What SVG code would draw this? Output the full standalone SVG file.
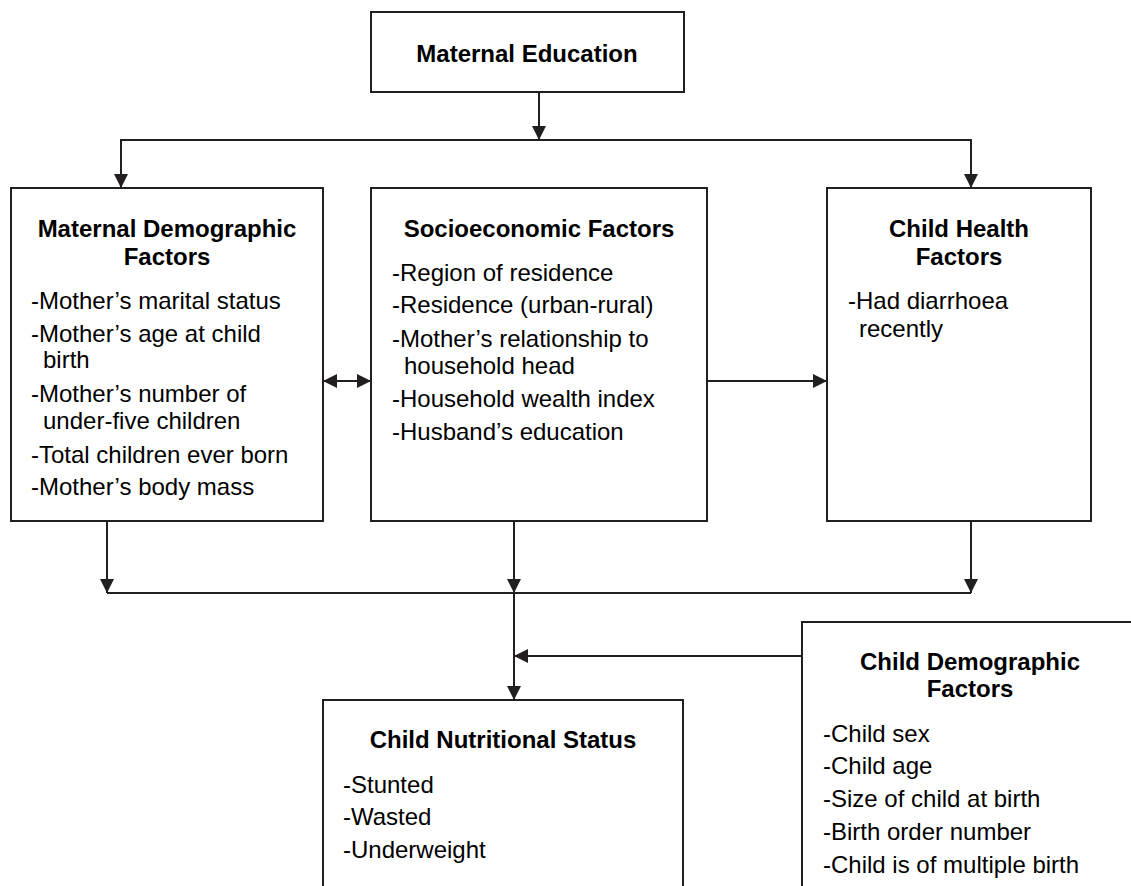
<svg xmlns="http://www.w3.org/2000/svg" width="1131" height="886" viewBox="0 0 1131 886">
<style>
.box{fill:#fff;stroke:#231f20;stroke-width:2}
.ln{fill:none;stroke:#231f20;stroke-width:2}
.t{font-family:"Liberation Sans",Arial,sans-serif;font-size:24px;font-weight:bold;fill:#000;text-anchor:middle}
.b{font-family:"Liberation Sans",Arial,sans-serif;font-size:24px;fill:#000}
</style>
<defs>
<marker id="ah" markerUnits="userSpaceOnUse" markerWidth="14" markerHeight="14" refX="14" refY="7" orient="auto-start-reverse" viewBox="0 0 14 14">
<path d="M0,0 L14,7 L0,14 z" fill="#231f20"/>
</marker>
</defs>
<rect width="1131" height="886" fill="#fff"/>
<g id="connectors">
<line class="ln" x1="539" y1="92" x2="539" y2="140" marker-end="url(#ah)"/>
<polyline class="ln" points="121,188 121,140 971,140 971,188" marker-start="url(#ah)" marker-end="url(#ah)"/>
<line class="ln" x1="323" y1="381" x2="371" y2="381" marker-start="url(#ah)" marker-end="url(#ah)"/>
<line class="ln" x1="707" y1="381" x2="827" y2="381" marker-end="url(#ah)"/>
<line class="ln" x1="107" y1="521" x2="107" y2="593" marker-end="url(#ah)"/>
<line class="ln" x1="514" y1="521" x2="514" y2="593" marker-end="url(#ah)"/>
<line class="ln" x1="971" y1="521" x2="971" y2="593" marker-end="url(#ah)"/>
<line class="ln" x1="107" y1="593" x2="971" y2="593"/>
<line class="ln" x1="514" y1="593" x2="514" y2="700" marker-end="url(#ah)"/>
<line class="ln" x1="802" y1="656" x2="514" y2="656" marker-end="url(#ah)"/>
</g>
<g id="maternal-education">
<rect class="box" x="371" y="12" width="313" height="80"/>
<text class="t" x="527" y="62">Maternal Education</text>
</g>
<g id="maternal-demographic">
<rect class="box" x="11" y="188" width="312" height="333"/>
<text class="t" x="167" y="237">Maternal Demographic</text>
<text class="t" x="167" y="265">Factors</text>
<text class="b" x="31" y="309">-Mother’s marital status</text>
<text class="b" x="31" y="342">-Mother’s age at child</text>
<text class="b" x="43" y="368">birth</text>
<text class="b" x="31" y="402">-Mother’s number of</text>
<text class="b" x="43" y="429">under-five children</text>
<text class="b" x="31" y="463">-Total children ever born</text>
<text class="b" x="31" y="495">-Mother’s body mass</text>
</g>
<g id="socioeconomic">
<rect class="box" x="371" y="188" width="336" height="333"/>
<text class="t" x="539" y="237">Socioeconomic Factors</text>
<text class="b" x="392" y="281">-Region of residence</text>
<text class="b" x="392" y="313">-Residence (urban-rural)</text>
<text class="b" x="392" y="347">-Mother’s relationship to</text>
<text class="b" x="404" y="374">household head</text>
<text class="b" x="392" y="407">-Household wealth index</text>
<text class="b" x="392" y="440">-Husband’s education</text>
</g>
<g id="child-health">
<rect class="box" x="827" y="188" width="264" height="333"/>
<text class="t" x="959" y="237">Child Health</text>
<text class="t" x="959" y="265">Factors</text>
<text class="b" x="848" y="309">-Had diarrhoea</text>
<text class="b" x="859" y="337">recently</text>
</g>
<g id="child-nutritional-status">
<rect class="box" x="323" y="700" width="360" height="200"/>
<text class="t" x="503" y="748">Child Nutritional Status</text>
<text class="b" x="343" y="793">-Stunted</text>
<text class="b" x="343" y="825">-Wasted</text>
<text class="b" x="343" y="858">-Underweight</text>
</g>
<g id="child-demographic">
<rect class="box" x="802" y="622" width="340" height="280"/>
<text class="t" x="970" y="670">Child Demographic</text>
<text class="t" x="970" y="697">Factors</text>
<text class="b" x="823" y="742">-Child sex</text>
<text class="b" x="823" y="774">-Child age</text>
<text class="b" x="823" y="807">-Size of child at birth</text>
<text class="b" x="823" y="840">-Birth order number</text>
<text class="b" x="823" y="873">-Child is of multiple birth</text>
</g>
</svg>
